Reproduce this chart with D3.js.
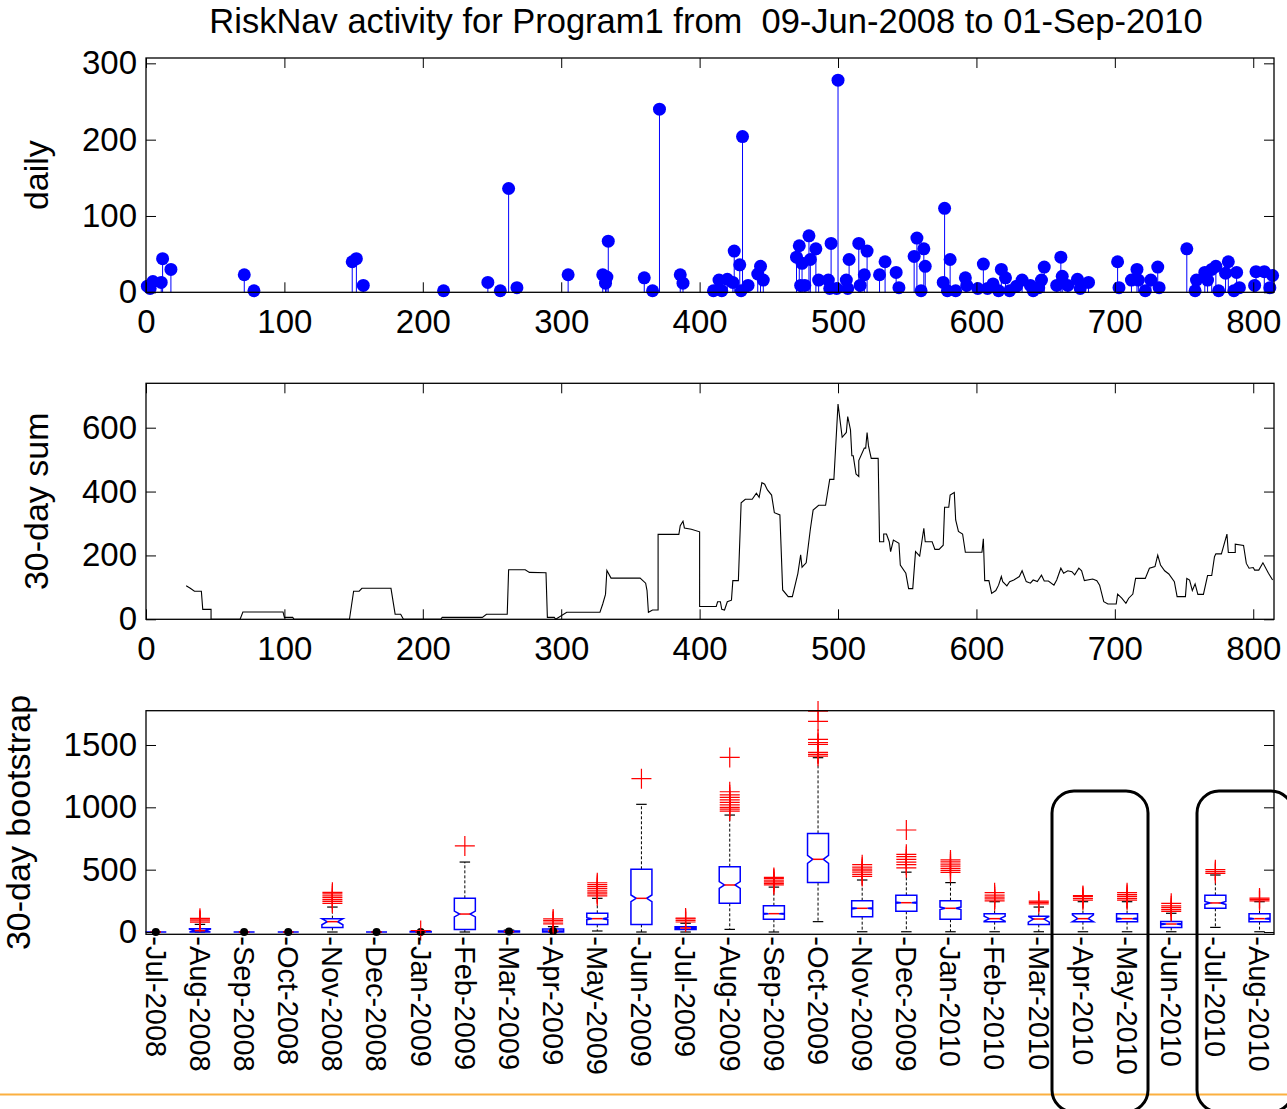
<!DOCTYPE html>
<html><head><meta charset="utf-8">
<script src="https://cdn.jsdelivr.net/npm/d3@7"></script>
<style>
body{margin:0;background:#fff}
svg{display:block}
text{font-family:"Liberation Sans",Arial,Helvetica,sans-serif;fill:#000}
.title{white-space:pre}
</style>
</head><body>
<svg id="chart" width="1287" height="1109"></svg>
<script>
// ---------- DATA ----------
const titleText = "RiskNav activity for Program1 from  09-Jun-2008 to 01-Sep-2010";
const dayTicks = [0,100,200,300,400,500,600,700,800];
const dailyTicks = [0,100,200,300];
const sumTicks = [0,200,400,600];
const bootTicks = [0,500,1000,1500];

const dailyDay = [1,3,5,11,12,18,71,78,149,152,157,215,247,256,262,268,305,330,332,333,334,360,366,371,386,388,410,414,416,420,424,425,429,430,431,435,442,444,446,470,472,473,474,476,479,480,484,486,493,494,495,499,500,506,507,508,515,516,519,521,530,534,542,544,555,557,560,562,563,576,577,579,581,585,592,593,601,605,608,612,616,618,621,624,629,633,639,641,645,647,649,658,661,662,666,673,675,681,702,703,712,716,717,722,726,731,732,752,758,759,765,767,770,773,775,780,782,786,788,790,801,802,808,812,814];
const dailyCount = [8,5,14,13,44,30,23,2,40,44,9,2,13,2,136,6,23,23,12,20,67,19,2,240,23,12,2,16,2,17,13,54,36,2,204,9,24,34,16,46,61,9,38,9,74,43,57,16,16,5,64,5,278,16,5,43,64,9,23,54,23,40,26,6,47,71,2,57,34,13,110,2,43,2,19,9,5,37,5,11,2,30,19,2,8,16,9,2,6,16,33,9,46,21,9,17,5,13,40,6,16,30,16,2,16,33,6,57,2,16,26,16,30,34,2,25,40,2,26,6,9,27,27,6,22];

const sumDay = [29,32,35,40,41,47,47,68,70,99,100,106,107,147,150,154,156,177,180,184,186,213,214,243,246,261,262,274,277,289,290,295,296,304,328,330,332,333,336,357,361,362,363,366,370,370,385,386,388,389,394,400,400,412,413,415,416,418,420,423,424,428,430,433,438,441,443,445,447,449,452,454,458,460,464,467,471,473,474,477,480,482,486,491,494,497,500,503,506,507,509,510,511,513,515,515,519,520,521,522,524,529,530,533,533,535,537,538,540,544,545,549,551,554,556,559,562,563,568,570,573,576,577,580,581,584,585,587,590,592,604,605,606,609,611,614,616,618,619,622,624,627,631,633,636,639,641,644,647,649,652,656,658,661,663,666,669,671,674,676,678,684,687,689,692,695,701,702,705,708,710,713,715,722,725,729,731,733,736,739,743,745,751,752,754,756,758,760,764,767,770,772,773,777,781,782,787,787,793,795,797,800,801,804,807,811,814];
const sumValue = [105,97,88,88,31,31,0,0,23,23,6,6,0,0,88,88,97,97,16,16,0,0,6,6,16,16,155,155,147,146,6,6,0,22,22,48,78,153,129,129,113,90,22,29,29,266,266,293,307,286,282,274,40,40,55,55,31,29,55,60,121,121,365,376,376,395,382,428,423,405,389,334,327,92,71,71,144,202,163,177,282,342,357,357,438,438,674,570,585,635,593,512,512,455,447,497,536,536,585,543,504,504,243,243,267,267,243,212,248,238,170,144,96,96,212,198,285,243,243,219,219,232,351,351,389,397,311,275,267,210,210,252,121,121,81,90,107,134,118,105,118,123,134,152,118,113,123,118,138,120,120,107,123,160,144,152,149,139,160,152,121,126,121,107,55,48,48,79,66,50,66,79,128,128,160,165,201,170,152,142,118,71,71,128,123,90,111,78,78,137,137,196,205,205,267,209,209,235,231,175,160,162,154,154,177,144,123];

const months = ["Jul-2008","Aug-2008","Sep-2008","Oct-2008","Nov-2008","Dec-2008","Jan-2009","Feb-2009","Mar-2009","Apr-2009","May-2009","Jun-2009","Jul-2009","Aug-2009","Sep-2009","Oct-2009","Nov-2009","Dec-2009","Jan-2010","Feb-2010","Mar-2010","Apr-2010","May-2010","Jun-2010","Jul-2010","Aug-2010"];
const boxQ1  = [0,0,0,0,37,0,0,21,0,0,61,61,21,230,102,396,123,166,102,83,61,83,83,37,190,83];
const boxMed = [0,11,0,0,83,0,0,144,3,8,107,270,32,377,147,583,190,235,190,107,104,107,107,64,233,107];
const boxQ3  = [0,27,0,0,107,0,3,270,8,24,150,503,43,524,211,791,251,294,251,147,126,147,147,85,294,147];
const whiskLo = [0,0,0,0,0,0,0,0,0,0,8,0,0,21,0,83,2,2,2,2,2,2,2,2,37,2];
const whiskHi = [0,61,0,0,200,0,5,561,15,43,270,1024,70,938,360,1398,417,480,396,243,200,243,243,150,457,243];
const notchHalf = [0,11,0,0,25,0,0,23,0,0,8,27,3,27,4,32,5,5,10,20,25,30,5,5,12,5];
const outliers = [[],[78,88,98,110],[],[],[230,245,260,275,290,305,318],[],[12],[690],[],[65,80,92,105],
 [290,305,320,335,350,365,380,395],[1230],[80,92,105,112],[970,985,1000,1020,1040,1060,1080,1100,1125,1400],
 [378,390,402,415,428,438],[1410,1425,1440,1505,1520,1545,1690,1772],[445,460,475,490,505,520,540],
 [515,540,560,583,605,623,818],[478,495,510,528,545,562,578],[250,265,280,295,315],[226,238,248],
 [255,270,285,292],[255,270,285,300,315],[165,180,195,210,230],[470,485,500],[250,262,272]];

// ---------- LAYOUT ----------
const svg = d3.select("#chart");
const L = 146, R = 1274;
const P1 = {top:58, bottom:292.3};
const P2 = {top:383.3, bottom:619.3};
const P3 = {top:710.7, bottom:934.3};
const TICK = 10, FS = 33;

const xDay = d3.scaleLinear().domain([0,815]).range([L,R]);
const y1 = d3.scaleLinear().domain([0,307]).range([P1.bottom,P1.top]);
const y2 = d3.scaleLinear().domain([0,739]).range([P2.bottom,P2.top]);
const y3 = d3.scaleLinear().domain([-18.5,1775]).range([P3.bottom,P3.top]);
const xCat = d3.scaleLinear().domain([0.778,26.328]).range([L,R]);

function styleAxis(g){
  g.select(".domain").remove();
  g.selectAll(".tick line").attr("stroke","#000").attr("stroke-width",1);
  g.selectAll(".tick text").attr("font-size",FS).attr("font-family","Liberation Sans, Arial, sans-serif").attr("fill","#000");
}
function frame(P, xScale, xTicks, yScale, yTicks, withTopTicks, xLabelPad){
  svg.append("g").attr("transform",`translate(${L},0)`)
    .call(d3.axisLeft(yScale).tickValues(yTicks).tickSize(-TICK).tickPadding(9).tickFormat(d3.format("d")))
    .call(styleAxis);
  svg.append("g").attr("transform",`translate(${R},0)`)
    .call(d3.axisRight(yScale).tickValues(yTicks).tickSize(-TICK).tickFormat(""))
    .call(styleAxis);
  if (xTicks){
    svg.append("g").attr("transform",`translate(0,${P.bottom})`)
      .call(d3.axisBottom(xScale).tickValues(xTicks).tickSize(-TICK).tickPadding(xLabelPad).tickFormat(d3.format("d")))
      .call(styleAxis);
  }
  if (withTopTicks){
    svg.append("g").attr("transform",`translate(0,${P.top})`)
      .call(d3.axisTop(xScale).tickValues(xTicks).tickSize(-TICK).tickFormat(""))
      .call(styleAxis);
  }
}
function box(P){
  svg.append("rect").attr("x",L).attr("y",P.top).attr("width",R-L).attr("height",P.bottom-P.top)
    .attr("fill","none").attr("stroke","#000").attr("stroke-width",1.3);
}

// ---------- TITLE ----------
svg.append("text").attr("class","title").attr("x",706).attr("y",33).attr("text-anchor","middle")
  .attr("xml:space","preserve").attr("font-size",34.5).text(titleText);

// ---------- PANEL 1: daily stems ----------
const daily = dailyDay.map((d,i)=>({d, v:dailyCount[i]}));
const g1 = svg.append("g");
g1.selectAll("line.stem").data(daily).enter().append("line")
  .attr("x1",p=>xDay(p.d)).attr("x2",p=>xDay(p.d))
  .attr("y1",y1(0)).attr("y2",p=>y1(p.v))
  .attr("stroke","#0000ff").attr("stroke-width",1);
g1.selectAll("circle").data(daily).enter().append("circle")
  .attr("cx",p=>xDay(p.d)).attr("cy",p=>y1(p.v)).attr("r",6.5).attr("fill","#0000ff");
frame(P1, xDay, dayTicks, y1, dailyTicks, true, 17);
box(P1);
svg.append("text").attr("transform",`translate(48,${(P1.top+P1.bottom)/2}) rotate(-90)`)
  .attr("text-anchor","middle").attr("font-size",34).text("daily");

// ---------- PANEL 2: 30-day sum ----------
const sums = sumDay.map((d,i)=>({d, v:sumValue[i]}));
svg.append("path").datum(sums)
  .attr("d", d3.line().x(p=>xDay(p.d)).y(p=>y2(p.v)))
  .attr("fill","none").attr("stroke","#000").attr("stroke-width",1.1);
frame(P2, xDay, dayTicks, y2, sumTicks, true, 17);
box(P2);
svg.append("text").attr("transform",`translate(48,${(P2.top+P2.bottom)/2}) rotate(-90)`)
  .attr("text-anchor","middle").attr("font-size",34).text("30-day sum");

// ---------- PANEL 3: bootstrap boxplots ----------
const g3 = svg.append("g");
const HW = 10.5;
months.forEach((m,i)=>{
  const c = i+1, cx = xCat(c);
  const yq1 = y3(boxQ1[i]), yq3 = y3(boxQ3[i]), ym = y3(boxMed[i]);
  const nlo = y3(Math.max(boxQ1[i], boxMed[i]-notchHalf[i]));
  const nhi = y3(Math.min(boxQ3[i], boxMed[i]+notchHalf[i]));
  g3.append("line").attr("x1",cx).attr("x2",cx).attr("y1",yq3).attr("y2",y3(whiskHi[i]))
    .attr("stroke","#000").attr("stroke-width",1).attr("stroke-dasharray","3,2");
  g3.append("line").attr("x1",cx).attr("x2",cx).attr("y1",yq1).attr("y2",y3(whiskLo[i]))
    .attr("stroke","#000").attr("stroke-width",1).attr("stroke-dasharray","3,2");
  [whiskHi[i], whiskLo[i]].forEach(v=>{
    g3.append("line").attr("x1",cx-HW/2).attr("x2",cx+HW/2).attr("y1",y3(v)).attr("y2",y3(v))
      .attr("stroke","#000").attr("stroke-width",1.2);
  });
  const pts = [[cx-HW,yq1],[cx+HW,yq1],[cx+HW,nlo],[cx+HW/2,ym],[cx+HW,nhi],[cx+HW,yq3],
               [cx-HW,yq3],[cx-HW,nhi],[cx-HW/2,ym],[cx-HW,nlo]];
  g3.append("path").attr("d", d3.line()(pts)+"Z")
    .attr("fill","none").attr("stroke","#0000ff").attr("stroke-width",1.5);
  g3.append("line").attr("x1",cx-HW/2).attr("x2",cx+HW/2).attr("y1",ym).attr("y2",ym)
    .attr("stroke","#ff0000").attr("stroke-width",1.5);
  if (boxQ3[i] < 25){
    g3.append("circle").attr("cx",cx).attr("cy",y3(boxMed[i])).attr("r",4).attr("fill","#000");
  }
  outliers[i].forEach(v=>{
    const oy = y3(v);
    g3.append("path").attr("d",`M${cx-10},${oy}H${cx+10}M${cx},${oy-10}V${oy+10}`)
      .attr("stroke","#ff0000").attr("stroke-width",1.2).attr("fill","none");
  });
});
frame(P3, null, null, y3, bootTicks, false, 0);
box(P3);
svg.append("g").attr("transform",`translate(0,${P3.bottom})`)
  .call(d3.axisBottom(xCat).tickValues(d3.range(1,27)).tickSize(0).tickFormat(""))
  .call(g=>g.select(".domain").remove());
months.forEach((m,i)=>{
  svg.append("text").attr("transform",`translate(${xCat(i+1)},${P3.bottom+2}) rotate(90)`)
    .attr("dy","0.35em").attr("font-size",29).text("-"+m);
});
svg.append("text").attr("transform",`translate(29.5,${(P3.top+P3.bottom)/2}) rotate(-90)`)
  .attr("text-anchor","middle").attr("font-size",34).text("30-day bootstrap");

// ---------- ANNOTATIONS ----------
svg.append("line").attr("x1",0).attr("x2",1287).attr("y1",1094.5).attr("y2",1094.5)
  .attr("stroke","#fbb040").attr("stroke-width",2);
[[1052,1148],[1197,1293]].forEach(([a,b])=>{
  svg.append("rect").attr("x",a).attr("y",791).attr("width",b-a).attr("height",321)
    .attr("rx",22).attr("ry",22).attr("fill","none").attr("stroke","#000").attr("stroke-width",3);
});
</script>
</body></html>
